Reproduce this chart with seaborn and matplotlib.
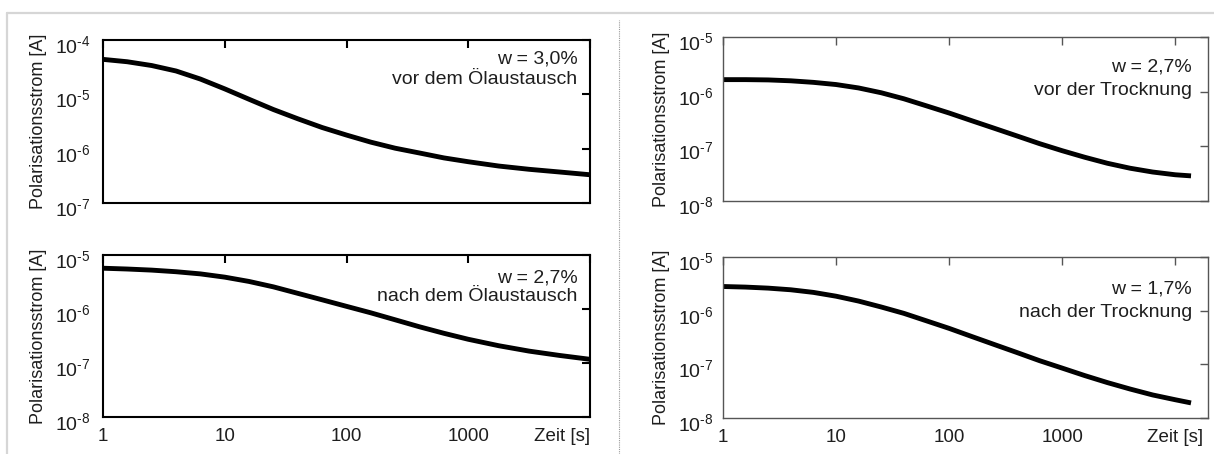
import matplotlib
matplotlib.use("Agg")
import numpy as np
import pandas as pd
import matplotlib.pyplot as plt
import seaborn as sns
from matplotlib.ticker import FixedLocator, FuncFormatter, NullLocator
from matplotlib.lines import Line2D
from matplotlib.transforms import ScaledTranslation

# Polarisation current curves (time in s, current in A)
t_oil = [1, 1.58, 2.51, 3.98, 6.31, 10, 15.8, 25.1, 39.8, 63.1, 100, 158, 251, 398,
         631, 1000, 1778, 3162, 5623, 10000]
i_oil_before = [4.40e-5, 3.98e-5, 3.39e-5, 2.69e-5, 1.91e-5, 1.26e-5, 8.13e-6, 5.25e-6,
                3.55e-6, 2.45e-6, 1.78e-6, 1.32e-6, 1.02e-6, 8.32e-7, 6.76e-7, 5.75e-7,
                4.79e-7, 4.17e-7, 3.72e-7, 3.31e-7]
i_oil_after = [5.69e-6, 5.50e-6, 5.25e-6, 4.90e-6, 4.47e-6, 3.89e-6, 3.24e-6, 2.57e-6,
               1.95e-6, 1.48e-6, 1.12e-6, 8.51e-7, 6.31e-7, 4.68e-7, 3.55e-7, 2.75e-7,
               2.09e-7, 1.66e-7, 1.38e-7, 1.17e-7]

t_dry = [1, 1.58, 2.51, 3.98, 6.31, 10, 15.8, 25.1, 39.8, 63.1, 100, 158, 251, 398,
         631, 1000, 1585, 2512, 3981, 6310, 10000, 13800]
i_dry_before = [1.66e-6, 1.66e-6, 1.64e-6, 1.58e-6, 1.48e-6, 1.35e-6, 1.17e-6, 9.55e-7,
                7.41e-7, 5.50e-7, 4.07e-7, 2.95e-7, 2.14e-7, 1.55e-7, 1.12e-7, 8.32e-8,
                6.31e-8, 4.90e-8, 3.98e-8, 3.39e-8, 3.02e-8, 2.88e-8]
i_dry_after = [2.82e-6, 2.75e-6, 2.63e-6, 2.45e-6, 2.19e-6, 1.86e-6, 1.51e-6, 1.17e-6,
               8.91e-7, 6.46e-7, 4.68e-7, 3.31e-7, 2.34e-7, 1.66e-7, 1.17e-7, 8.51e-8,
               6.17e-8, 4.57e-8, 3.47e-8, 2.69e-8, 2.19e-8, 1.91e-8]

x_tick_values = [1, 10, 100, 1000, 10000]
x_tick_labels = ["1", "10", "100", "1000", "Zeit [s]"]
y_label = "Polarisationsstrom [A]"

titles = [("w = 3,0%", "vor dem Ölaustausch"),
          ("w = 2,7%", "nach dem Ölaustausch"),
          ("w = 2,7%", "vor der Trocknung"),
          ("w = 1,7%", "nach der Trocknung")]

sns.set_theme(style="white")
plt.rcParams["font.family"] = ["Liberation Sans", "DejaVu Sans"]
plt.rcParams["mathtext.fontset"] = "custom"
plt.rcParams["mathtext.rm"] = "Liberation Sans"
plt.rcParams["mathtext.it"] = "Liberation Sans:italic"
plt.rcParams["mathtext.bf"] = "Liberation Sans:bold"

W, H = 1214, 454
fig = plt.figure(figsize=(W / 100, H / 100), dpi=100)
fig.patch.set_facecolor("white")


def box(l, t, r, b):
    return [l / W, 1 - b / H, (r - l) / W, (b - t) / H]


TXT = "#1e1e1e"

panels = [
    dict(rect=box(103, 40, 590, 203), t=t_oil, i=i_oil_before, ylim=(1e-7, 1e-4),
         xlim=(1, 1e4), labels=False, frame="black", lw=1.5, text=titles[0],
         ty=(0.885, 0.755), tx=0.974, ypad=9),
    dict(rect=box(103, 255, 590, 417), t=t_oil, i=i_oil_after, ylim=(1e-8, 1e-5),
         xlim=(1, 1e4), labels=True, frame="black", lw=1.5, text=titles[1],
         ty=(0.86, 0.745), tx=0.974, ypad=9),
    dict(rect=box(723, 37, 1208, 201), t=t_dry, i=i_dry_before, ylim=(1e-8, 1e-5),
         xlim=(1, 1.95e4), labels=False, frame="#555555", lw=1.0, text=titles[2],
         ty=(0.82, 0.675), tx=0.967, ypad=7),
    dict(rect=box(723, 257, 1208, 418), t=t_dry, i=i_dry_after, ylim=(1e-8, 1e-5),
         xlim=(1, 1.95e4), labels=True, frame="#555555", lw=1.0, text=titles[3],
         ty=(0.80, 0.655), tx=0.967, ypad=7),
]


def pow_fmt(v, pos):
    e = int(round(np.log10(v)))
    sign = r"\text{-}" if e < 0 else ""
    return r"$\mathregular{10^{%s%d}}$" % (sign, abs(e))


for p in panels:
    ax = fig.add_axes(p["rect"])
    df = pd.DataFrame({"Zeit": p["t"], "Strom": p["i"]})
    sns.lineplot(data=df, x="Zeit", y="Strom", ax=ax, color="black", linewidth=3.5,
                 solid_capstyle="butt", solid_joinstyle="round")
    ax.set_xscale("log")
    ax.set_yscale("log")
    ax.set_xlim(*p["xlim"])
    ax.set_ylim(*p["ylim"])

    ax.xaxis.set_major_locator(FixedLocator(x_tick_values))
    ax.xaxis.set_minor_locator(NullLocator())
    lo, hi = np.log10(p["ylim"])
    ax.yaxis.set_major_locator(FixedLocator([10.0 ** k for k in range(int(lo), int(hi) + 1)]))
    ax.yaxis.set_minor_locator(NullLocator())
    ax.yaxis.set_major_formatter(FuncFormatter(pow_fmt))

    if p["labels"]:
        ax.set_xticklabels(x_tick_labels)
        if p["xlim"][1] <= 1e4:
            ax.get_xticklabels()[-1].set_horizontalalignment("right")
    else:
        ax.set_xticklabels([])

    ax.tick_params(axis="both", which="major", direction="in", top=True, right=True,
                   length=6, width=p["lw"], color=p["frame"], labelsize=13.5,
                   labelcolor=TXT)
    ax.tick_params(axis="y", labelsize=14)
    ax.tick_params(axis="x", pad=8)
    ax.tick_params(axis="y", pad=p["ypad"])
    for s in ax.spines.values():
        s.set_color(p["frame"])
        s.set_linewidth(p["lw"])
        s.set_visible(True)

    # the exponent labels sit slightly below their tick
    shift = ScaledTranslation(0, -3 / 72, fig.dpi_scale_trans)
    for tk in ax.yaxis.get_major_ticks():
        tk.label1.set_transform(tk.label1.get_transform() + shift)

    ax.set_xlabel("")
    ax.set_ylabel(y_label, fontsize=13, color=TXT, labelpad=6)
    ax.grid(False)

    ax.text(p["tx"], p["ty"][0], p["text"][0], transform=ax.transAxes, ha="right",
            va="center", fontsize=14, color=TXT)
    ax.text(p["tx"], p["ty"][1], p["text"][1], transform=ax.transAxes, ha="right",
            va="center", fontsize=14, color=TXT)

# page frame and column separator
fig.add_artist(Line2D([7 / W, 1], [1 - 13 / H, 1 - 13 / H], color="#d6d6d6", lw=1.6))
fig.add_artist(Line2D([7 / W, 7 / W], [0, 1 - 13 / H], color="#d6d6d6", lw=1.6))
fig.add_artist(Line2D([619 / W, 619 / W], [0, 1 - 20 / H], color="#9a9a9a", lw=0.8,
                      linestyle=(0, (1, 1))))

fig.savefig("out.png", dpi=100)
